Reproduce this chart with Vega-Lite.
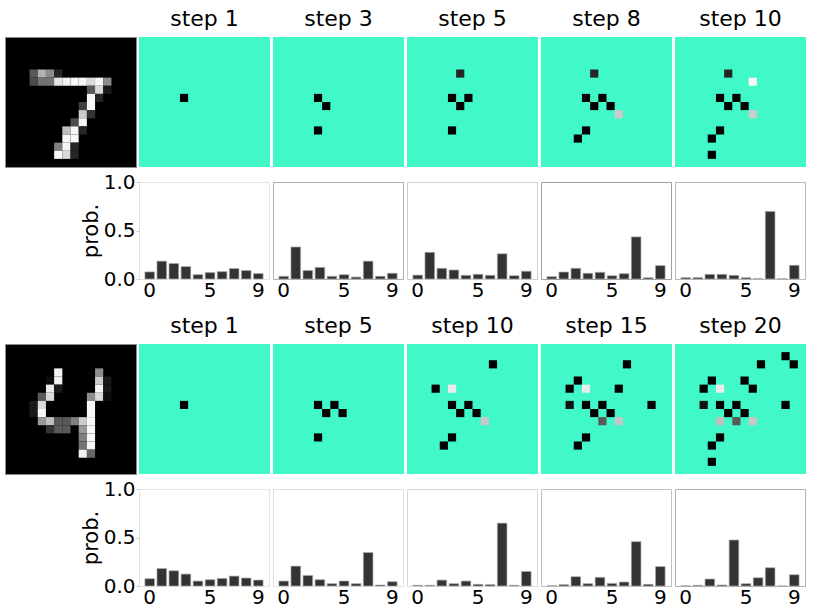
{
  "$schema": "https://vega.github.io/schema/vega-lite/v6.json",
  "autosize": {"type": "pad"},
  "padding": {"left": 4, "top": 8, "right": 0, "bottom": 0},
  "background": "white",
  "columns": 6,
  "spacing": {"row": 15, "column": 3},
  "bounds": "flush",
  "align": "each",
  "config": {
    "font": "DejaVu Sans",
    "title": {"fontSize": 22, "fontWeight": "normal", "font": "DejaVu Sans", "color": "#000000", "baseline": "alphabetic", "offset": 6, "anchor": "middle"},
    "axis": {"labelFontSize": 20, "labelColor": "#000000", "labelFont": "DejaVu Sans", "titleFont": "DejaVu Sans", "titleFontSize": 21, "titleFontWeight": "normal", "titleColor": "#000000", "grid": false},
    "view": {"stroke": "#d8d8d8"}
  },
  "concat": [
    {
      "width": 131, "height": 130,
      "view": {"fill": "#000000", "stroke": "#888888"},
      "data": {"values": [
        {"r":4,"c":3,"v":0.35},{"r":4,"c":4,"v":0.7},{"r":4,"c":5,"v":0.55},{"r":4,"c":6,"v":0.15},
        {"r":5,"c":3,"v":0.3},{"r":5,"c":4,"v":0.45},{"r":5,"c":5,"v":0.45},{"r":5,"c":6,"v":0.9},{"r":5,"c":7,"v":0.95},{"r":5,"c":8,"v":0.97},{"r":5,"c":9,"v":0.97},{"r":5,"c":10,"v":0.85},{"r":5,"c":11,"v":0.97},{"r":5,"c":12,"v":0.55},
        {"r":6,"c":10,"v":0.35},{"r":6,"c":11,"v":0.85},{"r":6,"c":12,"v":0.1},
        {"r":7,"c":10,"v":0.97},{"r":7,"c":11,"v":0.15},
        {"r":8,"c":9,"v":0.25},{"r":8,"c":10,"v":0.97},
        {"r":9,"c":9,"v":0.8},{"r":9,"c":10,"v":0.2},
        {"r":10,"c":8,"v":0.3},{"r":10,"c":9,"v":0.97},
        {"r":11,"c":7,"v":0.75},{"r":11,"c":8,"v":0.97},{"r":11,"c":9,"v":0.15},
        {"r":12,"c":7,"v":0.97},{"r":12,"c":8,"v":0.97},
        {"r":13,"c":6,"v":0.5},{"r":13,"c":7,"v":0.97},{"r":13,"c":8,"v":0.15},
        {"r":14,"c":6,"v":0.97},{"r":14,"c":7,"v":0.85},{"r":14,"c":8,"v":0.15}
      ]},
      "mark": {"type": "rect", "strokeWidth": 0},
      "encoding": {
        "x": {"field": "c", "type": "ordinal", "scale": {"domain": [0,1,2,3,4,5,6,7,8,9,10,11,12,13,14,15], "paddingInner": 0, "paddingOuter": 0}, "axis": null},
        "y": {"field": "r", "type": "ordinal", "scale": {"domain": [0,1,2,3,4,5,6,7,8,9,10,11,12,13,14,15], "paddingInner": 0, "paddingOuter": 0}, "axis": null},
        "color": {"field": "v", "type": "quantitative", "scale": {"domain": [0, 1], "range": ["#000000", "#ffffff"], "interpolate": "rgb"}, "legend": null}
      }
    },
    {
      "width": 131, "height": 130, "title": "step 1",
      "view": {"fill": "#40F8C8", "stroke": null},
      "data": {"values": [{"r":7,"c":5,"v":0}]},
      "mark": {"type": "rect", "strokeWidth": 0},
      "encoding": {
        "x": {"field": "c", "type": "ordinal", "scale": {"domain": [0,1,2,3,4,5,6,7,8,9,10,11,12,13,14,15], "paddingInner": 0, "paddingOuter": 0}, "axis": null},
        "y": {"field": "r", "type": "ordinal", "scale": {"domain": [0,1,2,3,4,5,6,7,8,9,10,11,12,13,14,15], "paddingInner": 0, "paddingOuter": 0}, "axis": null},
        "color": {"field": "v", "type": "quantitative", "scale": {"domain": [0, 1], "range": ["#000000", "#ffffff"], "interpolate": "rgb"}, "legend": null}
      }
    },
    {
      "width": 131, "height": 130, "title": "step 3",
      "view": {"fill": "#40F8C8", "stroke": null},
      "data": {"values": [{"r":7,"c":5,"v":0},{"r":8,"c":6,"v":0},{"r":11,"c":5,"v":0}]},
      "mark": {"type": "rect", "strokeWidth": 0},
      "encoding": {
        "x": {"field": "c", "type": "ordinal", "scale": {"domain": [0,1,2,3,4,5,6,7,8,9,10,11,12,13,14,15], "paddingInner": 0, "paddingOuter": 0}, "axis": null},
        "y": {"field": "r", "type": "ordinal", "scale": {"domain": [0,1,2,3,4,5,6,7,8,9,10,11,12,13,14,15], "paddingInner": 0, "paddingOuter": 0}, "axis": null},
        "color": {"field": "v", "type": "quantitative", "scale": {"domain": [0, 1], "range": ["#000000", "#ffffff"], "interpolate": "rgb"}, "legend": null}
      }
    },
    {
      "width": 131, "height": 130, "title": "step 5",
      "view": {"fill": "#40F8C8", "stroke": null},
      "data": {"values": [{"r":4,"c":6,"v":0.15},{"r":7,"c":5,"v":0},{"r":7,"c":7,"v":0},{"r":8,"c":6,"v":0},{"r":11,"c":5,"v":0}]},
      "mark": {"type": "rect", "strokeWidth": 0},
      "encoding": {
        "x": {"field": "c", "type": "ordinal", "scale": {"domain": [0,1,2,3,4,5,6,7,8,9,10,11,12,13,14,15], "paddingInner": 0, "paddingOuter": 0}, "axis": null},
        "y": {"field": "r", "type": "ordinal", "scale": {"domain": [0,1,2,3,4,5,6,7,8,9,10,11,12,13,14,15], "paddingInner": 0, "paddingOuter": 0}, "axis": null},
        "color": {"field": "v", "type": "quantitative", "scale": {"domain": [0, 1], "range": ["#000000", "#ffffff"], "interpolate": "rgb"}, "legend": null}
      }
    },
    {
      "width": 131, "height": 130, "title": "step 8",
      "view": {"fill": "#40F8C8", "stroke": null},
      "data": {"values": [{"r":4,"c":6,"v":0.15},{"r":7,"c":5,"v":0},{"r":7,"c":7,"v":0},{"r":8,"c":6,"v":0},{"r":8,"c":8,"v":0},{"r":9,"c":9,"v":0.8},{"r":11,"c":5,"v":0},{"r":12,"c":4,"v":0}]},
      "mark": {"type": "rect", "strokeWidth": 0},
      "encoding": {
        "x": {"field": "c", "type": "ordinal", "scale": {"domain": [0,1,2,3,4,5,6,7,8,9,10,11,12,13,14,15], "paddingInner": 0, "paddingOuter": 0}, "axis": null},
        "y": {"field": "r", "type": "ordinal", "scale": {"domain": [0,1,2,3,4,5,6,7,8,9,10,11,12,13,14,15], "paddingInner": 0, "paddingOuter": 0}, "axis": null},
        "color": {"field": "v", "type": "quantitative", "scale": {"domain": [0, 1], "range": ["#000000", "#ffffff"], "interpolate": "rgb"}, "legend": null}
      }
    },
    {
      "width": 131, "height": 130, "title": "step 10",
      "view": {"fill": "#40F8C8", "stroke": null},
      "data": {"values": [{"r":4,"c":6,"v":0.15},{"r":5,"c":9,"v":0.97},{"r":7,"c":5,"v":0},{"r":7,"c":7,"v":0},{"r":8,"c":6,"v":0},{"r":8,"c":8,"v":0},{"r":9,"c":9,"v":0.8},{"r":11,"c":5,"v":0},{"r":12,"c":4,"v":0},{"r":14,"c":4,"v":0}]},
      "mark": {"type": "rect", "strokeWidth": 0},
      "encoding": {
        "x": {"field": "c", "type": "ordinal", "scale": {"domain": [0,1,2,3,4,5,6,7,8,9,10,11,12,13,14,15], "paddingInner": 0, "paddingOuter": 0}, "axis": null},
        "y": {"field": "r", "type": "ordinal", "scale": {"domain": [0,1,2,3,4,5,6,7,8,9,10,11,12,13,14,15], "paddingInner": 0, "paddingOuter": 0}, "axis": null},
        "color": {"field": "v", "type": "quantitative", "scale": {"domain": [0, 1], "range": ["#000000", "#ffffff"], "interpolate": "rgb"}, "legend": null}
      }
    },
    {"width": 131, "height": 97, "view": {"stroke": null}, "data": {"values": []}, "mark": "point"},
    {
      "width": 130, "height": 97,
      "view": {"stroke": "#e4e4e4"},
      "data": {"values": [{"d":0,"p":0.073},{"d":1,"p":0.184},{"d":2,"p":0.16},{"d":3,"p":0.128},{"d":4,"p":0.045},{"d":5,"p":0.066},{"d":6,"p":0.076},{"d":7,"p":0.108},{"d":8,"p":0.087},{"d":9,"p":0.056}]},
      "mark": {"type": "bar", "color": "#333333", "stroke": "#aaaaaa", "strokeWidth": 0.7},
      "encoding": {
        "x": {"field": "d", "type": "ordinal", "scale": {"domain": [0,1,2,3,4,5,6,7,8,9], "paddingInner": 0.2, "paddingOuter": 0.49}, "axis": {"values": [0,5,9], "labelAngle": 0, "title": null, "ticks": false, "tickSize": 0, "domain": false, "labelPadding": 1}},
        "y": {"field": "p", "type": "quantitative", "scale": {"domain": [0, 1], "nice": false}, "axis": {"values": [0, 0.5, 1], "format": ".1f", "title": "prob.", "titlePadding": 2, "labelPadding": 1, "tickSize": 3, "tickColor": "#cccccc", "domain": false}}
      }
    },
    {
      "width": 130, "height": 97,
      "view": {"stroke": "#b0b0b0"},
      "data": {"values": [{"d":0,"p":0.028},{"d":1,"p":0.33},{"d":2,"p":0.087},{"d":3,"p":0.12},{"d":4,"p":0.028},{"d":5,"p":0.045},{"d":6,"p":0.02},{"d":7,"p":0.184},{"d":8,"p":0.028},{"d":9,"p":0.059}]},
      "mark": {"type": "bar", "color": "#333333", "stroke": "#aaaaaa", "strokeWidth": 0.7},
      "encoding": {
        "x": {"field": "d", "type": "ordinal", "scale": {"domain": [0,1,2,3,4,5,6,7,8,9], "paddingInner": 0.2, "paddingOuter": 0.49}, "axis": {"values": [0,5,9], "labelAngle": 0, "title": null, "ticks": false, "tickSize": 0, "domain": false, "labelPadding": 1}},
        "y": {"field": "p", "type": "quantitative", "scale": {"domain": [0, 1], "nice": false}, "axis": null}
      }
    },
    {
      "width": 130, "height": 97,
      "view": {"stroke": "#d0d0d0"},
      "data": {"values": [{"d":0,"p":0.04},{"d":1,"p":0.275},{"d":2,"p":0.11},{"d":3,"p":0.093},{"d":4,"p":0.038},{"d":5,"p":0.048},{"d":6,"p":0.038},{"d":7,"p":0.26},{"d":8,"p":0.034},{"d":9,"p":0.08}]},
      "mark": {"type": "bar", "color": "#333333", "stroke": "#aaaaaa", "strokeWidth": 0.7},
      "encoding": {
        "x": {"field": "d", "type": "ordinal", "scale": {"domain": [0,1,2,3,4,5,6,7,8,9], "paddingInner": 0.2, "paddingOuter": 0.49}, "axis": {"values": [0,5,9], "labelAngle": 0, "title": null, "ticks": false, "tickSize": 0, "domain": false, "labelPadding": 1}},
        "y": {"field": "p", "type": "quantitative", "scale": {"domain": [0, 1], "nice": false}, "axis": null}
      }
    },
    {
      "width": 130, "height": 97,
      "view": {"stroke": "#a0a0a0"},
      "data": {"values": [{"d":0,"p":0.024},{"d":1,"p":0.072},{"d":2,"p":0.11},{"d":3,"p":0.059},{"d":4,"p":0.069},{"d":5,"p":0.034},{"d":6,"p":0.055},{"d":7,"p":0.434},{"d":8,"p":0.014},{"d":9,"p":0.138}]},
      "mark": {"type": "bar", "color": "#333333", "stroke": "#aaaaaa", "strokeWidth": 0.7},
      "encoding": {
        "x": {"field": "d", "type": "ordinal", "scale": {"domain": [0,1,2,3,4,5,6,7,8,9], "paddingInner": 0.2, "paddingOuter": 0.49}, "axis": {"values": [0,5,9], "labelAngle": 0, "title": null, "ticks": false, "tickSize": 0, "domain": false, "labelPadding": 1}},
        "y": {"field": "p", "type": "quantitative", "scale": {"domain": [0, 1], "nice": false}, "axis": null}
      }
    },
    {
      "width": 130, "height": 97,
      "view": {"stroke": "#b8b8b8"},
      "data": {"values": [{"d":0,"p":0.014},{"d":1,"p":0.014},{"d":2,"p":0.048},{"d":3,"p":0.048},{"d":4,"p":0.038},{"d":5,"p":0.014},{"d":6,"p":0.003},{"d":7,"p":0.697},{"d":8,"p":0.003},{"d":9,"p":0.141}]},
      "mark": {"type": "bar", "color": "#333333", "stroke": "#aaaaaa", "strokeWidth": 0.7},
      "encoding": {
        "x": {"field": "d", "type": "ordinal", "scale": {"domain": [0,1,2,3,4,5,6,7,8,9], "paddingInner": 0.2, "paddingOuter": 0.49}, "axis": {"values": [0,5,9], "labelAngle": 0, "title": null, "ticks": false, "tickSize": 0, "domain": false, "labelPadding": 1}},
        "y": {"field": "p", "type": "quantitative", "scale": {"domain": [0, 1], "nice": false}, "axis": null}
      }
    },
    {"width": 131, "height": 35, "view": {"stroke": null}, "data": {"values": []}, "mark": "point"},
    {"width": 131, "height": 35, "view": {"stroke": null}, "data": {"values": []}, "mark": "point"},
    {"width": 131, "height": 35, "view": {"stroke": null}, "data": {"values": []}, "mark": "point"},
    {"width": 131, "height": 35, "view": {"stroke": null}, "data": {"values": []}, "mark": "point"},
    {"width": 131, "height": 35, "view": {"stroke": null}, "data": {"values": []}, "mark": "point"},
    {"width": 131, "height": 35, "view": {"stroke": null}, "data": {"values": []}, "mark": "point"},
    {
      "width": 131, "height": 130,
      "view": {"fill": "#000000", "stroke": "#888888"},
      "data": {"values": [
        {"r":3,"c":6,"v":0.95},{"r":3,"c":11,"v":0.55},
        {"r":4,"c":5,"v":0.05},{"r":4,"c":6,"v":0.95},{"r":4,"c":11,"v":0.8},{"r":4,"c":12,"v":0.1},
        {"r":5,"c":5,"v":0.92},{"r":5,"c":6,"v":0.1},{"r":5,"c":11,"v":0.97},{"r":5,"c":12,"v":0.1},
        {"r":6,"c":4,"v":0.35},{"r":6,"c":5,"v":0.85},{"r":6,"c":10,"v":0.55},{"r":6,"c":11,"v":0.85},{"r":6,"c":12,"v":0.05},
        {"r":7,"c":3,"v":0.1},{"r":7,"c":4,"v":0.85},{"r":7,"c":10,"v":0.97},
        {"r":8,"c":3,"v":0.1},{"r":8,"c":4,"v":0.97},{"r":8,"c":10,"v":0.97},
        {"r":9,"c":4,"v":0.6},{"r":9,"c":5,"v":0.75},{"r":9,"c":6,"v":0.35},{"r":9,"c":7,"v":0.35},{"r":9,"c":8,"v":0.5},{"r":9,"c":9,"v":0.8},{"r":9,"c":10,"v":0.97},
        {"r":10,"c":5,"v":0.2},{"r":10,"c":6,"v":0.35},{"r":10,"c":7,"v":0.35},{"r":10,"c":9,"v":0.6},{"r":10,"c":10,"v":0.97},
        {"r":11,"c":9,"v":0.5},{"r":11,"c":10,"v":0.97},
        {"r":12,"c":9,"v":0.45},{"r":12,"c":10,"v":0.97},
        {"r":13,"c":9,"v":0.95},{"r":13,"c":10,"v":0.4}
      ]},
      "mark": {"type": "rect", "strokeWidth": 0},
      "encoding": {
        "x": {"field": "c", "type": "ordinal", "scale": {"domain": [0,1,2,3,4,5,6,7,8,9,10,11,12,13,14,15], "paddingInner": 0, "paddingOuter": 0}, "axis": null},
        "y": {"field": "r", "type": "ordinal", "scale": {"domain": [0,1,2,3,4,5,6,7,8,9,10,11,12,13,14,15], "paddingInner": 0, "paddingOuter": 0}, "axis": null},
        "color": {"field": "v", "type": "quantitative", "scale": {"domain": [0, 1], "range": ["#000000", "#ffffff"], "interpolate": "rgb"}, "legend": null}
      }
    },
    {
      "width": 131, "height": 130, "title": "step 1",
      "view": {"fill": "#40F8C8", "stroke": null},
      "data": {"values": [{"r":7,"c":5,"v":0}]},
      "mark": {"type": "rect", "strokeWidth": 0},
      "encoding": {
        "x": {"field": "c", "type": "ordinal", "scale": {"domain": [0,1,2,3,4,5,6,7,8,9,10,11,12,13,14,15], "paddingInner": 0, "paddingOuter": 0}, "axis": null},
        "y": {"field": "r", "type": "ordinal", "scale": {"domain": [0,1,2,3,4,5,6,7,8,9,10,11,12,13,14,15], "paddingInner": 0, "paddingOuter": 0}, "axis": null},
        "color": {"field": "v", "type": "quantitative", "scale": {"domain": [0, 1], "range": ["#000000", "#ffffff"], "interpolate": "rgb"}, "legend": null}
      }
    },
    {
      "width": 131, "height": 130, "title": "step 5",
      "view": {"fill": "#40F8C8", "stroke": null},
      "data": {"values": [{"r":7,"c":5,"v":0},{"r":7,"c":7,"v":0},{"r":8,"c":6,"v":0},{"r":8,"c":8,"v":0},{"r":11,"c":5,"v":0}]},
      "mark": {"type": "rect", "strokeWidth": 0},
      "encoding": {
        "x": {"field": "c", "type": "ordinal", "scale": {"domain": [0,1,2,3,4,5,6,7,8,9,10,11,12,13,14,15], "paddingInner": 0, "paddingOuter": 0}, "axis": null},
        "y": {"field": "r", "type": "ordinal", "scale": {"domain": [0,1,2,3,4,5,6,7,8,9,10,11,12,13,14,15], "paddingInner": 0, "paddingOuter": 0}, "axis": null},
        "color": {"field": "v", "type": "quantitative", "scale": {"domain": [0, 1], "range": ["#000000", "#ffffff"], "interpolate": "rgb"}, "legend": null}
      }
    },
    {
      "width": 131, "height": 130, "title": "step 10",
      "view": {"fill": "#40F8C8", "stroke": null},
      "data": {"values": [{"r":2,"c":10,"v":0},{"r":5,"c":3,"v":0},{"r":5,"c":5,"v":0.92},{"r":7,"c":5,"v":0},{"r":7,"c":7,"v":0},{"r":8,"c":6,"v":0},{"r":8,"c":8,"v":0},{"r":9,"c":9,"v":0.78},{"r":11,"c":5,"v":0},{"r":12,"c":4,"v":0}]},
      "mark": {"type": "rect", "strokeWidth": 0},
      "encoding": {
        "x": {"field": "c", "type": "ordinal", "scale": {"domain": [0,1,2,3,4,5,6,7,8,9,10,11,12,13,14,15], "paddingInner": 0, "paddingOuter": 0}, "axis": null},
        "y": {"field": "r", "type": "ordinal", "scale": {"domain": [0,1,2,3,4,5,6,7,8,9,10,11,12,13,14,15], "paddingInner": 0, "paddingOuter": 0}, "axis": null},
        "color": {"field": "v", "type": "quantitative", "scale": {"domain": [0, 1], "range": ["#000000", "#ffffff"], "interpolate": "rgb"}, "legend": null}
      }
    },
    {
      "width": 131, "height": 130, "title": "step 15",
      "view": {"fill": "#40F8C8", "stroke": null},
      "data": {"values": [{"r":2,"c":10,"v":0},{"r":4,"c":4,"v":0},{"r":5,"c":3,"v":0},{"r":5,"c":5,"v":0.92},{"r":5,"c":9,"v":0},{"r":7,"c":3,"v":0.07},{"r":7,"c":5,"v":0},{"r":7,"c":7,"v":0},{"r":7,"c":13,"v":0},{"r":8,"c":6,"v":0},{"r":8,"c":8,"v":0},{"r":9,"c":7,"v":0.35},{"r":9,"c":9,"v":0.78},{"r":11,"c":5,"v":0},{"r":12,"c":4,"v":0}]},
      "mark": {"type": "rect", "strokeWidth": 0},
      "encoding": {
        "x": {"field": "c", "type": "ordinal", "scale": {"domain": [0,1,2,3,4,5,6,7,8,9,10,11,12,13,14,15], "paddingInner": 0, "paddingOuter": 0}, "axis": null},
        "y": {"field": "r", "type": "ordinal", "scale": {"domain": [0,1,2,3,4,5,6,7,8,9,10,11,12,13,14,15], "paddingInner": 0, "paddingOuter": 0}, "axis": null},
        "color": {"field": "v", "type": "quantitative", "scale": {"domain": [0, 1], "range": ["#000000", "#ffffff"], "interpolate": "rgb"}, "legend": null}
      }
    },
    {
      "width": 131, "height": 130, "title": "step 20",
      "view": {"fill": "#40F8C8", "stroke": null},
      "data": {"values": [{"r":1,"c":13,"v":0},{"r":2,"c":10,"v":0},{"r":2,"c":14,"v":0},{"r":4,"c":4,"v":0},{"r":4,"c":8,"v":0},{"r":5,"c":3,"v":0},{"r":5,"c":5,"v":0.92},{"r":5,"c":9,"v":0},{"r":7,"c":3,"v":0.07},{"r":7,"c":5,"v":0},{"r":7,"c":7,"v":0},{"r":7,"c":13,"v":0},{"r":8,"c":6,"v":0},{"r":8,"c":8,"v":0},{"r":9,"c":5,"v":0.75},{"r":9,"c":7,"v":0.35},{"r":9,"c":9,"v":0.78},{"r":11,"c":5,"v":0},{"r":12,"c":4,"v":0},{"r":14,"c":4,"v":0}]},
      "mark": {"type": "rect", "strokeWidth": 0},
      "encoding": {
        "x": {"field": "c", "type": "ordinal", "scale": {"domain": [0,1,2,3,4,5,6,7,8,9,10,11,12,13,14,15], "paddingInner": 0, "paddingOuter": 0}, "axis": null},
        "y": {"field": "r", "type": "ordinal", "scale": {"domain": [0,1,2,3,4,5,6,7,8,9,10,11,12,13,14,15], "paddingInner": 0, "paddingOuter": 0}, "axis": null},
        "color": {"field": "v", "type": "quantitative", "scale": {"domain": [0, 1], "range": ["#000000", "#ffffff"], "interpolate": "rgb"}, "legend": null}
      }
    },
    {"width": 131, "height": 97, "view": {"stroke": null}, "data": {"values": []}, "mark": "point"},
    {
      "width": 130, "height": 97,
      "view": {"stroke": "#e4e4e4"},
      "data": {"values": [{"d":0,"p":0.075},{"d":1,"p":0.18},{"d":2,"p":0.157},{"d":3,"p":0.123},{"d":4,"p":0.051},{"d":5,"p":0.065},{"d":6,"p":0.078},{"d":7,"p":0.102},{"d":8,"p":0.082},{"d":9,"p":0.061}]},
      "mark": {"type": "bar", "color": "#333333", "stroke": "#aaaaaa", "strokeWidth": 0.7},
      "encoding": {
        "x": {"field": "d", "type": "ordinal", "scale": {"domain": [0,1,2,3,4,5,6,7,8,9], "paddingInner": 0.2, "paddingOuter": 0.49}, "axis": {"values": [0,5,9], "labelAngle": 0, "title": null, "ticks": false, "tickSize": 0, "domain": false, "labelPadding": 1}},
        "y": {"field": "p", "type": "quantitative", "scale": {"domain": [0, 1], "nice": false}, "axis": {"values": [0, 0.5, 1], "format": ".1f", "title": "prob.", "titlePadding": 2, "labelPadding": 1, "tickSize": 3, "tickColor": "#cccccc", "domain": false}}
      }
    },
    {
      "width": 130, "height": 97,
      "view": {"stroke": "#e0e0e0"},
      "data": {"values": [{"d":0,"p":0.051},{"d":1,"p":0.205},{"d":2,"p":0.109},{"d":3,"p":0.065},{"d":4,"p":0.024},{"d":5,"p":0.051},{"d":6,"p":0.024},{"d":7,"p":0.345},{"d":8,"p":0.01},{"d":9,"p":0.044}]},
      "mark": {"type": "bar", "color": "#333333", "stroke": "#aaaaaa", "strokeWidth": 0.7},
      "encoding": {
        "x": {"field": "d", "type": "ordinal", "scale": {"domain": [0,1,2,3,4,5,6,7,8,9], "paddingInner": 0.2, "paddingOuter": 0.49}, "axis": {"values": [0,5,9], "labelAngle": 0, "title": null, "ticks": false, "tickSize": 0, "domain": false, "labelPadding": 1}},
        "y": {"field": "p", "type": "quantitative", "scale": {"domain": [0, 1], "nice": false}, "axis": null}
      }
    },
    {
      "width": 130, "height": 97,
      "view": {"stroke": "#d8d8d8"},
      "data": {"values": [{"d":0,"p":0.007},{"d":1,"p":0.007},{"d":2,"p":0.061},{"d":3,"p":0.024},{"d":4,"p":0.051},{"d":5,"p":0.017},{"d":6,"p":0.014},{"d":7,"p":0.648},{"d":8,"p":0.007},{"d":9,"p":0.15}]},
      "mark": {"type": "bar", "color": "#333333", "stroke": "#aaaaaa", "strokeWidth": 0.7},
      "encoding": {
        "x": {"field": "d", "type": "ordinal", "scale": {"domain": [0,1,2,3,4,5,6,7,8,9], "paddingInner": 0.2, "paddingOuter": 0.49}, "axis": {"values": [0,5,9], "labelAngle": 0, "title": null, "ticks": false, "tickSize": 0, "domain": false, "labelPadding": 1}},
        "y": {"field": "p", "type": "quantitative", "scale": {"domain": [0, 1], "nice": false}, "axis": null}
      }
    },
    {
      "width": 130, "height": 97,
      "view": {"stroke": "#c0c0c0"},
      "data": {"values": [{"d":0,"p":0.003},{"d":1,"p":0.014},{"d":2,"p":0.096},{"d":3,"p":0.024},{"d":4,"p":0.089},{"d":5,"p":0.027},{"d":6,"p":0.041},{"d":7,"p":0.457},{"d":8,"p":0.017},{"d":9,"p":0.2}]},
      "mark": {"type": "bar", "color": "#333333", "stroke": "#aaaaaa", "strokeWidth": 0.7},
      "encoding": {
        "x": {"field": "d", "type": "ordinal", "scale": {"domain": [0,1,2,3,4,5,6,7,8,9], "paddingInner": 0.2, "paddingOuter": 0.49}, "axis": {"values": [0,5,9], "labelAngle": 0, "title": null, "ticks": false, "tickSize": 0, "domain": false, "labelPadding": 1}},
        "y": {"field": "p", "type": "quantitative", "scale": {"domain": [0, 1], "nice": false}, "axis": null}
      }
    },
    {
      "width": 130, "height": 97,
      "view": {"stroke": "#b0b0b0"},
      "data": {"values": [{"d":0,"p":0.001},{"d":1,"p":0.007},{"d":2,"p":0.072},{"d":3,"p":0.01},{"d":4,"p":0.474},{"d":5,"p":0.024},{"d":6,"p":0.085},{"d":7,"p":0.188},{"d":8,"p":0.001},{"d":9,"p":0.116}]},
      "mark": {"type": "bar", "color": "#333333", "stroke": "#aaaaaa", "strokeWidth": 0.7},
      "encoding": {
        "x": {"field": "d", "type": "ordinal", "scale": {"domain": [0,1,2,3,4,5,6,7,8,9], "paddingInner": 0.2, "paddingOuter": 0.49}, "axis": {"values": [0,5,9], "labelAngle": 0, "title": null, "ticks": false, "tickSize": 0, "domain": false, "labelPadding": 1}},
        "y": {"field": "p", "type": "quantitative", "scale": {"domain": [0, 1], "nice": false}, "axis": null}
      }
    }
  ]
}
